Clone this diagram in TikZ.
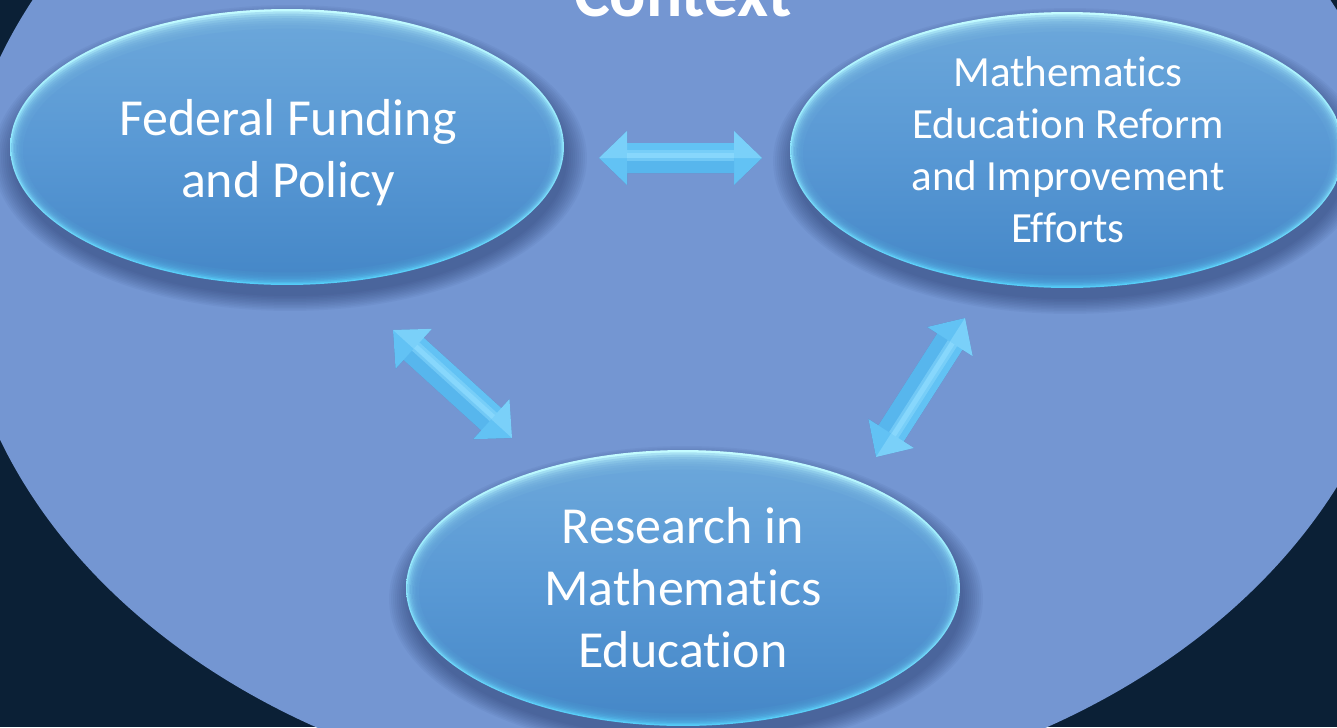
\documentclass[tikz,border=0pt]{standalone}
\usepackage{fontspec}
\setmainfont{Carlito}[Ligatures=NoCommon]
\usetikzlibrary{calc}
\definecolor{bgdark}{HTML}{0B2036}
\definecolor{circ}{HTML}{7496D2}
\definecolor{ellTop}{HTML}{6AA6DA}
\definecolor{ellMid}{HTML}{5898D4}
\definecolor{ellBot}{HTML}{4688C8}
\definecolor{rimTop}{HTML}{C4FCFF}
\definecolor{rimBot}{HTML}{54CCF8}
\definecolor{shadowc}{HTML}{1E2E5E}
\definecolor{arrMain}{HTML}{62C2F4}
\definecolor{arrLight}{HTML}{92DEFF}
\definecolor{arrDark}{HTML}{4AA8E6}
\tikzset{
  bigtext/.style={text=white, align=center, inner sep=0pt, font=\fontsize{29.6}{35.3}\selectfont},
  smalltext/.style={text=white, align=center, inner sep=0pt, font=\fontsize{24.5}{29.6}\selectfont},
  ctxtext/.style={text=white, inner sep=0pt, font=\bfseries\fontsize{38.5}{46}\selectfont},
}
% glossy bubble: #1 cx, #2 cy
\newcommand\bubble[2]{%
  \foreach \i in {0,...,10} {
    \fill[shadowc, opacity=0.05] (#1+3,#2+11) ellipse [x radius={5.54cm+\i*0.04cm}, y radius={2.76cm+\i*0.03cm}];
  }
  \shade[top color=rimTop, bottom color=rimBot] (#1,#2) ellipse [x radius=5.54cm, y radius=2.76cm];
  \foreach \k in {1,...,7} {
    \shade[top color=ellTop, bottom color=ellBot, middle color=ellMid, opacity=0.3]
      (#1,#2+0.4*\k) ellipse [x radius={5.54cm-\k*0.03cm}, y radius={2.76cm-\k*0.038cm}];
  }
  \shade[top color=ellTop, bottom color=ellBot, middle color=ellMid]
      (#1,#2+3.5) ellipse [x radius={5.54cm-0.26cm}, y radius={2.76cm-0.32cm}];
}
% double block arrow: #1 start, #2 end, #3 prefix
\newcommand\arrshape[3]{(#1) -- (#3p1) -- (#3p2) -- (#3p3) -- (#3p4) -- (#2) -- (#3p5) -- (#3p6) -- (#3p7) -- (#3p8) -- cycle}
\newcommand\dblarrow[3]{%
  \coordinate (#3a) at ($(#1)!0.56cm!(#2)$);
  \coordinate (#3b) at ($(#2)!0.56cm!(#1)$);
  \coordinate (#3p1) at ($(#3a)!0.54cm!90:(#1)$);
  \coordinate (#3p2) at ($(#3a)!0.30cm!90:(#1)$);
  \coordinate (#3p3) at ($(#3b)!0.30cm!-90:(#2)$);
  \coordinate (#3p4) at ($(#3b)!0.54cm!-90:(#2)$);
  \coordinate (#3p5) at ($(#3b)!0.54cm!90:(#2)$);
  \coordinate (#3p6) at ($(#3b)!0.30cm!90:(#2)$);
  \coordinate (#3p7) at ($(#3a)!0.30cm!-90:(#1)$);
  \coordinate (#3p8) at ($(#3a)!0.54cm!-90:(#1)$);
  \coordinate (#3c1) at ($(#3a)!0.06cm!-90:(#1)$);
  \coordinate (#3c2) at ($(#3b)!0.06cm!90:(#2)$);
  \begin{scope}[shift={(-2,5)}]
    \fill[shadowc, opacity=0.10] \arrshape{#1}{#2}{#3};
  \end{scope}
  \begin{scope}[shift={(-4,8)}]
    \fill[shadowc, opacity=0.08] \arrshape{#1}{#2}{#3};
  \end{scope}
  \begin{scope}[shift={(-6,11)}]
    \fill[shadowc, opacity=0.06] \arrshape{#1}{#2}{#3};
  \end{scope}
  \fill[arrMain] \arrshape{#1}{#2}{#3};
  \fill[arrDark, opacity=0.45] (#3a) -- (#3p1) -- (#3p2) -- (#3p3) -- (#3p4) -- (#3b) -- cycle;
  \fill[arrLight, opacity=0.5] (#1) -- (#3p8) -- (#3a) -- cycle;
  \fill[arrLight, opacity=0.5] (#2) -- (#3p5) -- (#3b) -- cycle;
  \draw[arrLight, opacity=0.45, line width=0.22cm] (#3c1) -- (#3c2);
  \draw[arrLight, opacity=0.6, line width=0.1cm] (#3c1) -- (#3c2);
}
\begin{document}
\begin{tikzpicture}[x=0.02cm, y=-0.02cm]
\useasboundingbox (0,0) rectangle (1337,727);
\begin{scope}
\clip (0,0) rectangle (1337,727);
\fill[bgdark] (0,0) rectangle (1337,727);
\fill[circ] (681.5,248.5) ellipse [x radius=14.52cm, y radius=11.08cm];
\node[ctxtext, anchor=base] (ctx) at (683,16) {Context};

\bubble{287}{147}
\bubble{1067}{150}
\bubble{683}{588}

\node[bigtext] (fed) at (288,153) {Federal Funding\\and Policy};
\node[smalltext] (ref) at (1068,150) {Mathematics\\Education Reform\\and Improvement\\Efforts};
\node[bigtext] (res) at (683,588) {Research in\\Mathematics\\Education};

\coordinate (h1) at (599,158);
\coordinate (h2) at (762,158);
\coordinate (d1) at (393,330);
\coordinate (d2) at (512,438);
\coordinate (e1) at (965,318);
\coordinate (e2) at (876,457);
\dblarrow{h1}{h2}{ah}
\dblarrow{d1}{d2}{ad}
\dblarrow{e1}{e2}{ae}
\end{scope}
\end{tikzpicture}
\end{document}
